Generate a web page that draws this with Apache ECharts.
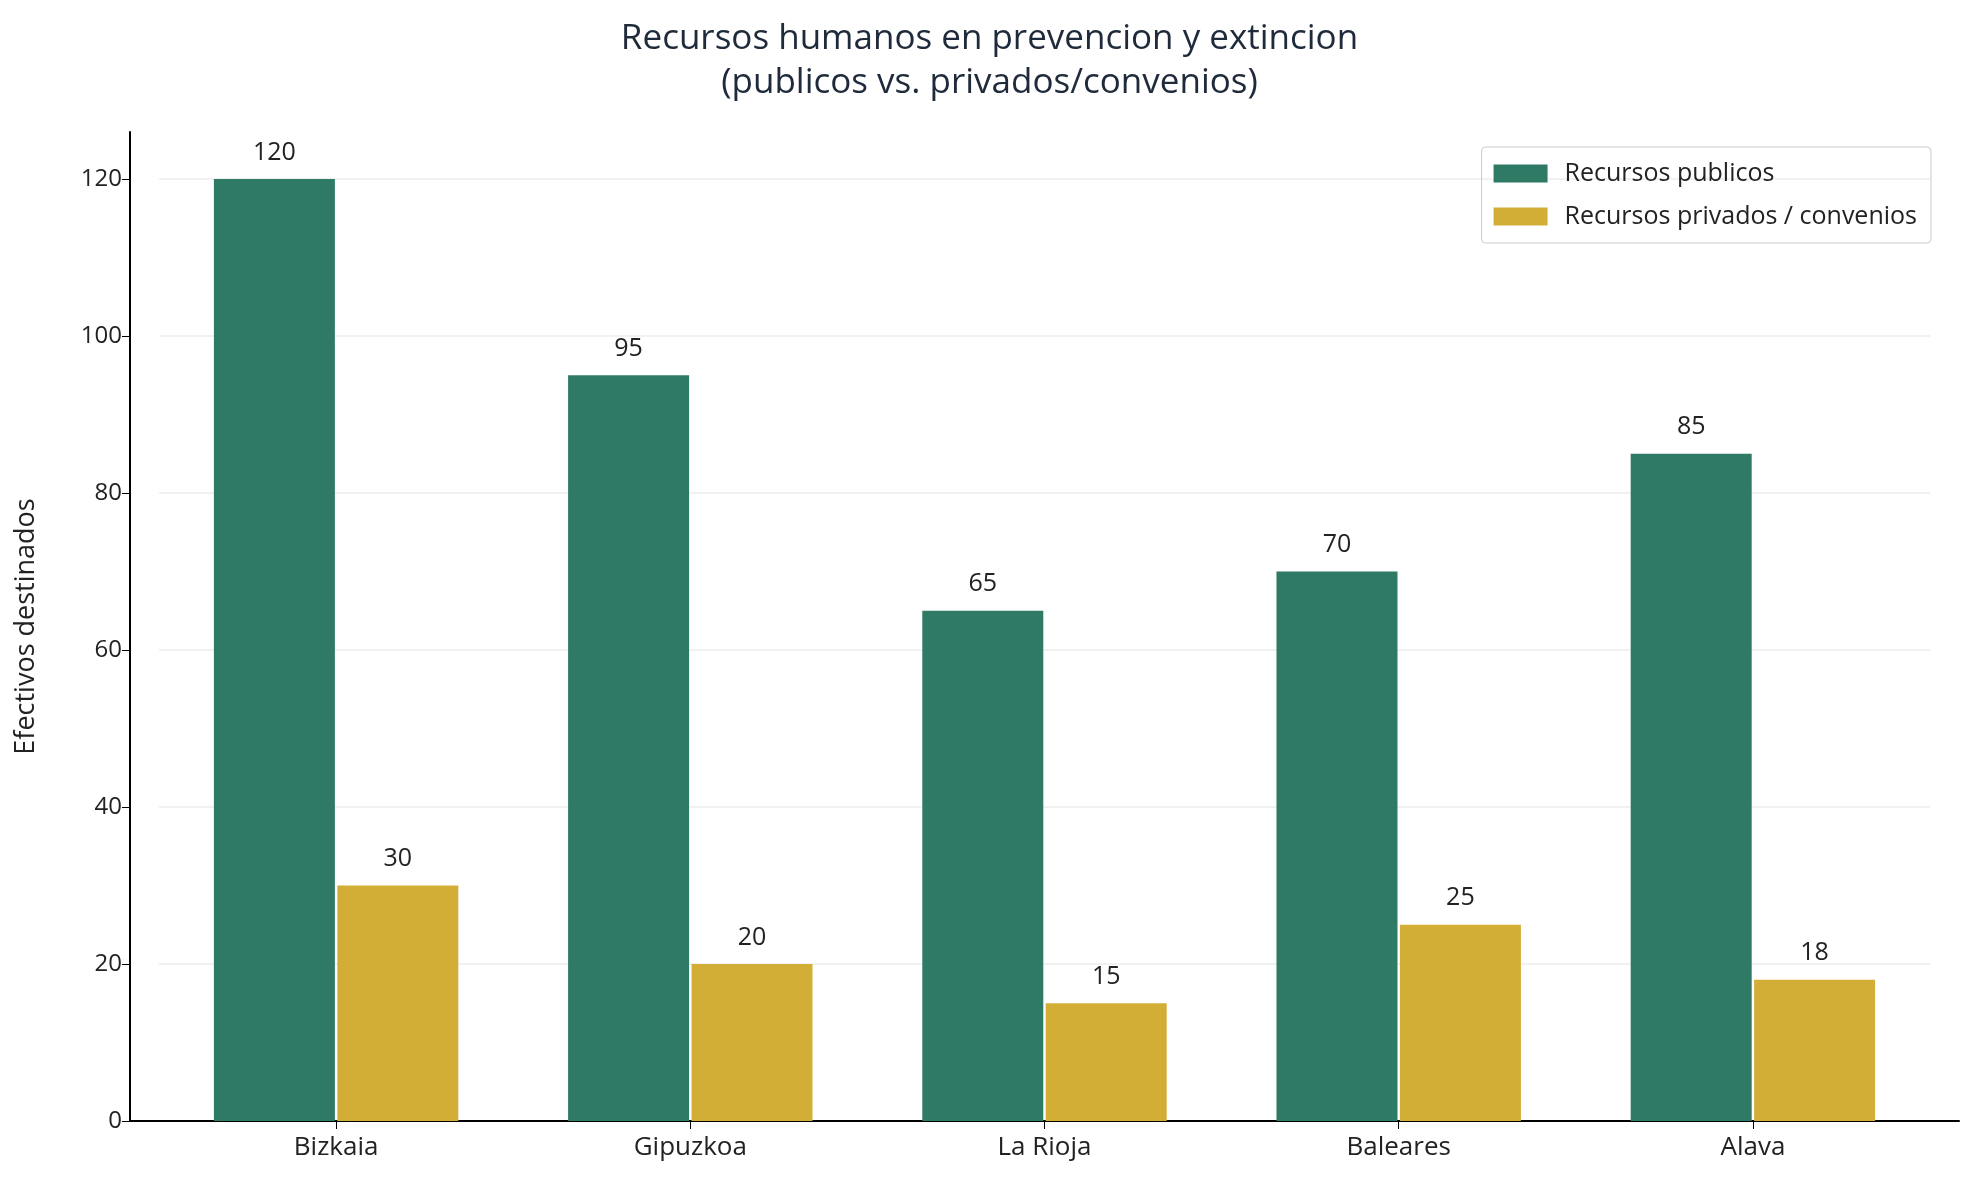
<!DOCTYPE html>
<html>
<head>
<meta charset="utf-8">
<script src="https://cdn.jsdelivr.net/npm/echarts@6/dist/echarts.min.js"></script>
<style>
html,body{margin:0;padding:0;background:#fff;}
#chart{width:1979px;height:1188px;}
</style>
</head>
<body>
<div id="chart"></div>
<script>
var categories = ['Bizkaia', 'Gipuzkoa', 'La Rioja', 'Baleares', 'Alava'];
var publicos = [120, 95, 65, 70, 85];
var privados = [30, 20, 15, 25, 18];
var seriesNames = ['Recursos publicos', 'Recursos privados / convenios'];
var yTicks = [0, 20, 40, 60, 80, 100, 120];

var font = 'Open Sans';
var myChart = echarts.init(document.getElementById('chart'));
var option = {
    backgroundColor: '#fff',
    textStyle: {fontFamily: font},
    title: {
        text: 'Recursos humanos en prevencion y extincion\n(publicos vs. privados/convenios)',
        left: 'center',
        top: 12,
        textStyle: {fontSize: 35, fontWeight: 'normal', color: '#1f2a3a', lineHeight: 44, fontFamily: font}
    },
    legend: {
        data: seriesNames,
        icon: 'rect',
        orient: 'vertical',
        right: 48,
        top: 147,
        itemWidth: 54,
        itemHeight: 18,
        itemGap: 18,
        padding: [14, 14, 14, 12],
        borderColor: '#ccc',
        borderWidth: 1,
        borderRadius: 4,
        textStyle: {fontSize: 25, color: '#222', fontFamily: font, padding: [0, 0, 0, 12]}
    },
    grid: [
        {left: 159, right: 49, top: 132, bottom: 67},
        {left: 130, right: 20, top: 132, bottom: 67}
    ],
    xAxis: [{
        type: 'category',
        data: categories,
        gridIndex: 0,
        axisLine: {show: false},
        axisTick: {show: true, length: 8, lineStyle: {color: '#000'}, alignWithLabel: true},
        axisLabel: {fontSize: 26, color: '#222', margin: 14}
    }, {
        type: 'value',
        gridIndex: 1,
        min: 0, max: 1,
        axisLine: {show: true, lineStyle: {color: '#000', width: 2}},
        axisTick: {show: false},
        axisLabel: {show: false},
        splitLine: {show: false}
    }],
    yAxis: [{
        type: 'value',
        gridIndex: 0,
        min: 0,
        max: 126,
        interval: 20,
        offset: 29,
        name: 'Efectivos destinados',
        nameLocation: 'middle',
        nameGap: 90,
        nameTextStyle: {fontSize: 27, color: '#222'},
        axisLine: {show: true, lineStyle: {color: '#000', width: 2}},
        axisTick: {show: true, length: 8, lineStyle: {color: '#000'}, customValues: yTicks},
        axisLabel: {fontSize: 24, color: '#222', customValues: yTicks},
        splitLine: {lineStyle: {color: 'rgba(200,200,200,0.35)', width: 1.5}}
    }, {
        type: 'value',
        gridIndex: 1,
        show: false
    }],
    series: [
        {
            name: seriesNames[0], type: 'bar', data: publicos,
            barWidth: 121, barGap: '2%', z: 1,
            itemStyle: {color: '#2e7a65'},
            label: {show: true, position: 'top', distance: 14, fontSize: 25, color: '#222'}
        },
        {
            name: seriesNames[1], type: 'bar', data: privados,
            barWidth: 121, z: 1,
            itemStyle: {color: '#d3ae37'},
            label: {show: true, position: 'top', distance: 14, fontSize: 25, color: '#222'}
        }
    ]
};
myChart.setOption(option);
</script>
</body>
</html>
